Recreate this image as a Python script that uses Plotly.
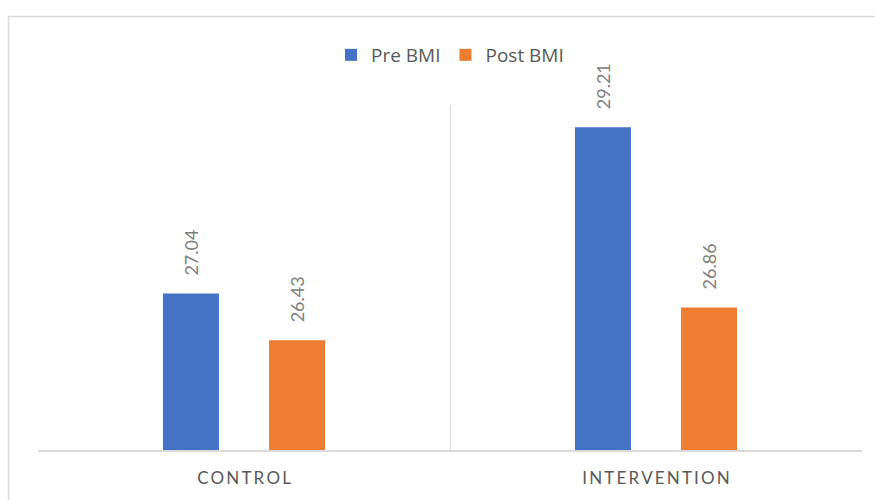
import plotly.graph_objects as go

categories = ["CONTROL", "INTERVENTION"]
pre_bmi = [27.04, 29.21]
post_bmi = [26.43, 26.86]
series_names = ["Pre BMI", "Post BMI"]
colors = ["#4472C4", "#ED7D31"]

# letter-spaced tick labels (Excel style)
tick_labels = ["\u2009".join(list(c)) for c in categories]

label_font = dict(family="Lato, Open Sans, sans-serif", size=18, color="#808080")

fig = go.Figure()
for name, vals, col in zip(series_names, [pre_bmi, post_bmi], colors):
    fig.add_trace(go.Bar(
        x=categories, y=vals, name=name,
        marker=dict(color=col, line=dict(width=0)),
    ))

# rotated data labels above the bars
bar_shift = 53
for shift, vals in zip([-bar_shift, bar_shift], [pre_bmi, post_bmi]):
    for c, v in zip(categories, vals):
        fig.add_annotation(
            x=c, y=v, xref="x", yref="y", text=f"{v:.2f}",
            textangle=-90, showarrow=False, xshift=shift, yshift=16,
            xanchor="center", yanchor="bottom", font=label_font,
        )

fig.update_layout(
    width=875, height=500,
    margin=dict(l=38, r=13, t=105, b=50),
    paper_bgcolor="white", plot_bgcolor="white",
    barmode="group", bargap=0.485, bargroupgap=0.472,
    font=dict(family="Lato, Open Sans, sans-serif", color="#595959"),
    showlegend=True,
    legend=dict(orientation="h", x=0.5, xanchor="center", y=1.145, yanchor="middle",
                font=dict(family="Open Sans, sans-serif", size=19, color="#595959"),
                itemwidth=30, bgcolor="rgba(0,0,0,0)"),
)
fig.update_xaxes(
    type="category", range=[-0.5, 1.5],
    tickmode="array", tickvals=categories, ticktext=tick_labels,
    tickson="boundaries", ticks="", showgrid=True, gridcolor="#d9d9d9", gridwidth=1,
    showline=True, linecolor="#d9d9d9", linewidth=1.5,
    tickfont=dict(size=17, color="#595959"), ticklabelstandoff=12,
    zeroline=False,
)
fig.update_yaxes(
    range=[25, 29.5], visible=False, showgrid=False, zeroline=False,
)
fig.add_shape(type="rect", xref="paper", yref="paper",
              x0=-0.0358, x1=1.2, y0=-0.3, y1=1.2565,
              line=dict(color="#d9d9d9", width=1.5), fillcolor="rgba(0,0,0,0)", layer="below")

fig.write_html("out.html", config={"displayModeBar": False},
               post_script="document.body.style.margin='0';")
